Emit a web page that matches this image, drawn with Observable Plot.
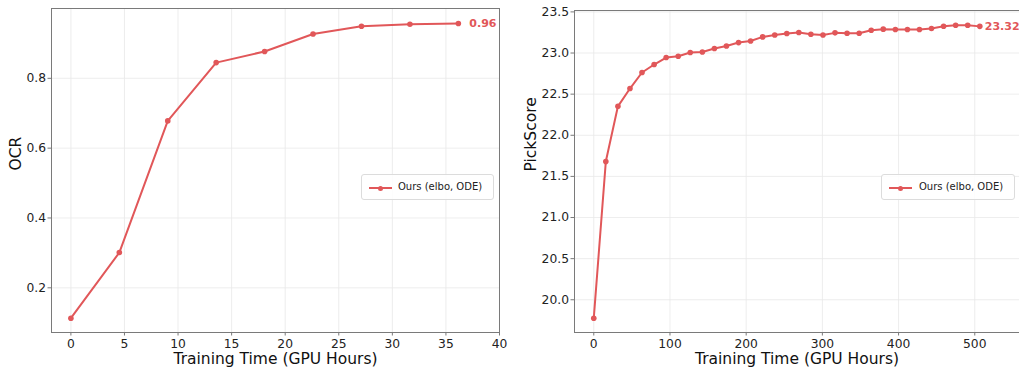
<!DOCTYPE html>
<html><head><meta charset="utf-8">
<script src="https://cdn.jsdelivr.net/npm/d3@7"></script>
<script src="https://cdn.jsdelivr.net/npm/@observablehq/plot@0.6"></script>
<style>
body{margin:0;background:#fff;font-family:"DejaVu Sans",sans-serif;}
#wrap{position:relative;width:1019px;height:369px;overflow:hidden;background:#fff;}
.panel{position:absolute;top:0;}
.panel svg{overflow:visible;}
.legend{position:absolute;box-sizing:border-box;height:26px;border:1px solid #dcdcdc;border-radius:3px;background:rgba(255,255,255,0.85);font-size:10px;color:#222;}
.legend .ln{position:absolute;top:12px;height:2px;background:#e15759;}
.legend .mk{position:absolute;top:10.5px;width:5.5px;height:5.5px;border-radius:50%;background:#e15759;}
.legend .tx{position:absolute;top:6px;line-height:12px;white-space:nowrap;}
</style>
</head><body>
<div id="wrap">
  <div id="left" class="panel" style="left:0px"></div>
  <div id="right" class="panel" style="left:510px"></div>
  <div class="legend" style="left:361px;top:174px;width:133px">
    <div class="ln" style="left:7px;width:23px"></div><div class="mk" style="left:15.8px"></div>
    <div class="tx" style="left:36px">Ours (elbo, ODE)</div>
  </div>
  <div class="legend" style="left:881px;top:174px;width:134px">
    <div class="ln" style="left:7px;width:23px"></div><div class="mk" style="left:15.8px"></div>
    <div class="tx" style="left:37px">Ours (elbo, ODE)</div>
  </div>
</div>
<script>
// ---- data ----
const seriesName = "Ours (elbo, ODE)";
const ocrHours = [0, 4.52, 9.04, 13.56, 18.08, 22.6, 27.12, 31.64, 36.16];
const ocrValues = [0.113, 0.301, 0.678, 0.845, 0.877, 0.927, 0.949, 0.955, 0.957];
const ocrLabel = "0.96";
const ocrXTicks = [0, 5, 10, 15, 20, 25, 30, 35, 40];
const ocrYTicks = [0.2, 0.4, 0.6, 0.8];

const pickHours = [0, 15.8, 31.7, 47.5, 63.3, 79.2, 95.0, 110.8, 126.6, 142.5, 158.3, 174.1, 190.0, 205.8, 221.6, 237.5, 253.3, 269.1, 284.9, 300.8, 316.6, 332.4, 348.3, 364.1, 379.9, 395.8, 411.6, 427.4, 443.2, 459.1, 474.9, 490.7, 506.6];
const pickValues = [19.776, 21.68, 22.352, 22.568, 22.763, 22.86, 22.945, 22.961, 23.006, 23.013, 23.055, 23.085, 23.127, 23.147, 23.196, 23.22, 23.237, 23.249, 23.229, 23.22, 23.245, 23.241, 23.241, 23.277, 23.29, 23.286, 23.286, 23.286, 23.298, 23.326, 23.338, 23.338, 23.324];
const pickLabel = "23.32";
const pickXTicks = [0, 100, 200, 300, 400, 500];
const pickYTicks = [20.0, 20.5, 21.0, 21.5, 22.0, 22.5, 23.0, 23.5];

const RED = "#e15759";

function panel({hours, values, label, xTicks, yTicks, xDomain, yDomain, yLabel, xFmt, yFmt, margins, width, labelDx, yLabelDx}) {
  const data = hours.map((h, i) => ({h, v: values[i]}));
  const last = data[data.length - 1];
  return Plot.plot({
    width, height: 369,
    marginLeft: margins[0], marginRight: margins[1], marginTop: margins[2], marginBottom: margins[3],
    style: {fontFamily: "DejaVu Sans", background: "transparent", color: "#222"},
    x: {domain: xDomain, ticks: xTicks, tickFormat: xFmt},
    y: {domain: yDomain, ticks: yTicks, tickFormat: yFmt},
    marks: [
      Plot.gridX(xTicks, {stroke: "#e9e9e9", strokeOpacity: 1, strokeWidth: 0.8}),
      Plot.gridY(yTicks, {stroke: "#e9e9e9", strokeOpacity: 1, strokeWidth: 0.8}),
      Plot.frame({stroke: "#7a7a7a", strokeWidth: 1}),
      Plot.axisX({ticks: xTicks, tickFormat: xFmt, tickSize: 3.5, tickPadding: 3, fontSize: 12.3, stroke: "#7a7a7a", fill: "#222", label: null}),
      Plot.axisY({ticks: yTicks, tickFormat: yFmt, tickSize: 3.5, tickPadding: 2, fontSize: 12.3, stroke: "#7a7a7a", fill: "#222", label: null}),
      Plot.line(data, {x: "h", y: "v", stroke: RED, strokeWidth: 2}),
      Plot.dot(data, {x: "h", y: "v", fill: RED, r: 2.8}),
      Plot.text([last], {x: "h", y: "v", text: () => label, dx: labelDx, textAnchor: "start", fill: RED, fontWeight: "bold", fontSize: 11}),
      Plot.text(["Training Time (GPU Hours)"], {frameAnchor: "bottom", dy: 26.5, lineAnchor: "middle", fontSize: 15.5, fill: "#111"}),
      Plot.text([yLabel], {frameAnchor: "left", dx: yLabelDx, rotate: -90, lineAnchor: "middle", fontSize: 15.5, fill: "#111"})
    ]
  });
}

document.getElementById("left").append(panel({
  hours: ocrHours, values: ocrValues, label: ocrLabel, xTicks: ocrXTicks, yTicks: ocrYTicks,
  xDomain: [-1.81, 40], yDomain: [0.072, 1.0], yLabel: "OCR",
  xFmt: d3.format("d"), yFmt: d3.format(".1f"),
  margins: [51, 11, 8, 37], width: 510, labelDx: 11, yLabelDx: -35.5
}));
document.getElementById("right").append(panel({
  hours: pickHours, values: pickValues, label: pickLabel, xTicks: pickXTicks, yTicks: pickYTicks,
  xDomain: [-25.3, 558.7], yDomain: [19.602, 23.517], yLabel: "PickScore",
  xFmt: d3.format("d"), yFmt: d3.format(".1f"),
  margins: [64, 0, 10, 37], width: 509, labelDx: 5, yLabelDx: -43.5
}));
</script>
</body></html>
